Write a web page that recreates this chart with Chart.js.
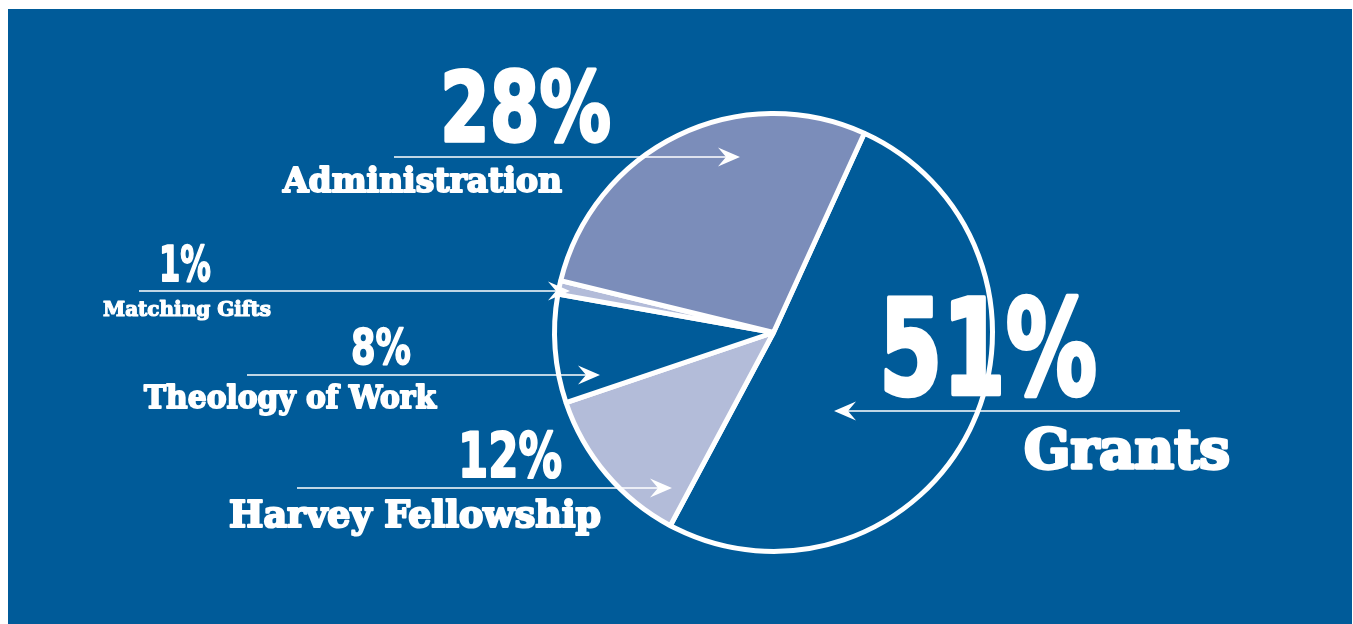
<!DOCTYPE html>
<html>
<head>
<meta charset="utf-8">
<script src="https://cdn.jsdelivr.net/npm/chart.js@4/dist/chart.umd.min.js"></script>
<style>
  html, body { margin: 0; padding: 0; background: #fff; }
  #wrap { width: 1353px; height: 624px; position: relative; }
</style>
</head>
<body>
<div id="wrap"><canvas id="c"></canvas></div>
<script>
// data
const categories = ['Grants', 'Harvey Fellowship', 'Theology of Work', 'Matching Gifts', 'Administration'];
const shares = [51, 12, 8, 1, 28];
const sliceColors = ['#005b99', '#b3bcd9', '#005b99', '#b3bcd9', '#7b8dba'];

const BG = '#005b99';
const NUM_FONT = '"DejaVu Sans", sans-serif';
const WORD_FONT = '"DejaVu Serif", serif';

// label placement (left x, baseline, size, fitted width) + arrow (from, tip, y)
const labelLayout = [
    { num: [879, 394, 132, 218], word: [1024, 468, 55, 206], arrow: [1180, 834, 411] },
    { num: [458, 477, 62, 104],  word: [229, 527, 37, 372],  arrow: [297, 672, 488] },
    { num: [351, 364, 50, 60],   word: [144, 408, 32, 292],  arrow: [247, 600, 375] },
    { num: [159, 281, 50, 52],   word: [103, 316, 20, 173],  arrow: [139, 570, 291] },
    { num: [440, 141, 96, 171],  word: [283, 192, 33, 288],  arrow: [394, 740, 157] },
];

function arrow(ctx, x0, x1, y) {
    const dir = x1 > x0 ? 1 : -1;
    ctx.save();
    ctx.strokeStyle = '#fff';
    ctx.fillStyle = '#fff';
    ctx.lineWidth = 1.3;
    ctx.beginPath();
    ctx.moveTo(x0, y);
    ctx.lineTo(x1 - dir * 6, y);
    ctx.stroke();
    ctx.beginPath();
    ctx.moveTo(x1, y);
    ctx.lineTo(x1 - dir * 22, y - 9.5);
    ctx.lineTo(x1 - dir * 14, y);
    ctx.lineTo(x1 - dir * 22, y + 9.5);
    ctx.closePath();
    ctx.fill();
    ctx.restore();
}

function heavyText(ctx, text, x, y, size, family, w, weight) {
    ctx.font = `bold ${size}px ${family}`;
    ctx.lineWidth = size * weight;
    ctx.lineJoin = 'round';
    ctx.fillText(text, x, y, w);
    ctx.strokeText(text, x, y, w);
}

const backdrop = {
    id: 'backdrop',
    beforeDraw(chart) {
        const ctx = chart.ctx;
        ctx.save();
        ctx.fillStyle = '#fff';
        ctx.fillRect(0, 0, chart.width, chart.height);
        ctx.fillStyle = BG;
        ctx.fillRect(8, 9, 1344, 615);
        ctx.restore();
    }
};

const callouts = {
    id: 'callouts',
    afterDraw(chart) {
        const ctx = chart.ctx;
        ctx.save();
        ctx.fillStyle = '#fff';
        ctx.strokeStyle = '#fff';
        ctx.textAlign = 'left';
        ctx.textBaseline = 'alphabetic';
        categories.forEach((name, i) => {
            const L = labelLayout[i];
            const [nx, ny, ns, nw] = L.num;
            heavyText(ctx, shares[i] + '%', nx, ny, ns, NUM_FONT, nw, 0.035);
            const [wx, wy, ws, ww] = L.word;
            heavyText(ctx, name, wx, wy, ws, WORD_FONT, ww, 0.06);
            arrow(ctx, L.arrow[0], L.arrow[1], L.arrow[2]);
        });
        ctx.restore();
    }
};

new Chart(document.getElementById('c'), {
    type: 'pie',
    data: {
        labels: categories,
        datasets: [{
            data: shares,
            backgroundColor: sliceColors,
            borderColor: '#fff',
            borderWidth: 5,
        }]
    },
    options: {
        responsive: true,
        maintainAspectRatio: false,
        animation: false,
        rotation: 24.5,
        layout: { padding: { left: 552, right: 358, top: 111, bottom: 70 } },
        plugins: {
            legend: { display: false },
            tooltip: { enabled: false },
        },
        events: [],
    },
    plugins: [backdrop, callouts],
});
</script>
</body>
</html>
